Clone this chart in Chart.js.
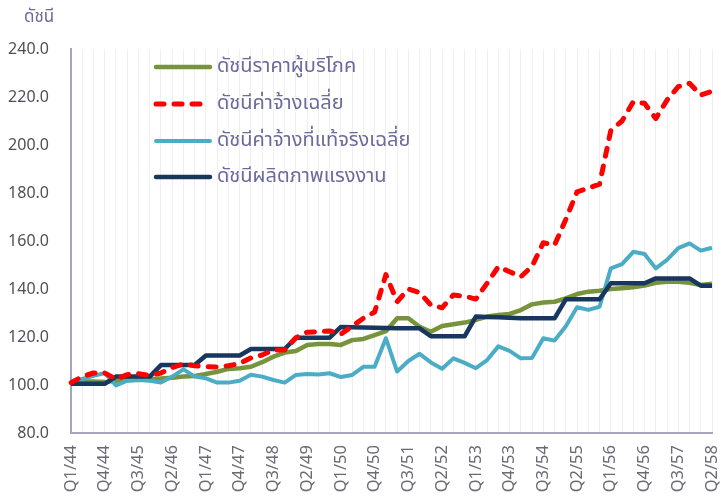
<!DOCTYPE html>
<html><head><meta charset="utf-8">
<script src="https://cdn.jsdelivr.net/npm/chart.js@4.4.1/dist/chart.umd.min.js"></script>
<style>html,body{margin:0;padding:0;background:#fff}#wrap{position:relative;width:721px;height:498px}</style>
</head><body><div id="wrap"><canvas id="c" width="721" height="498"></canvas></div>
<script>
const quarters = [
 'Q1/44','Q2/44','Q3/44','Q4/44','Q1/45','Q2/45','Q3/45','Q4/45',
 'Q1/46','Q2/46','Q3/46','Q4/46','Q1/47','Q2/47','Q3/47','Q4/47',
 'Q1/48','Q2/48','Q3/48','Q4/48','Q1/49','Q2/49','Q3/49','Q4/49',
 'Q1/50','Q2/50','Q3/50','Q4/50','Q1/51','Q2/51','Q3/51','Q4/51',
 'Q1/52','Q2/52','Q3/52','Q4/52','Q1/53','Q2/53','Q3/53','Q4/53',
 'Q1/54','Q2/54','Q3/54','Q4/54','Q1/55','Q2/55','Q3/55','Q4/55',
 'Q1/56','Q2/56','Q3/56','Q4/56','Q1/57','Q2/57','Q3/57','Q4/57',
 'Q1/58','Q2/58'];
const shownTicks = ['Q1/44','Q4/44','Q3/45','Q2/46','Q1/47','Q4/47','Q3/48','Q2/49','Q1/50','Q4/50',
 'Q3/51','Q2/52','Q1/53','Q4/53','Q3/54','Q2/55','Q1/56','Q4/56','Q3/57','Q2/58'];
const yTicks = [80,100,120,140,160,180,200,220,240];

const cpi = [101,101.5,101.5,101.2,101.8,102,102.2,102.4,102.7,103,103.5,103.8,104.6,105.5,106.7,107,
 107.6,109.5,111.8,113.5,114.2,116.7,117.1,117.1,116.7,118.7,119.2,120.8,122.4,127.8,127.8,124.3,
 122.2,124.6,125.3,126,127.1,128.5,129.2,129.6,131.2,133.6,134.4,134.7,136.1,137.9,138.9,139.3,
 140,140.3,140.7,141.4,142.6,143,143,142.6,141.7,142.2];
const wage = [101,103.5,105,105,102.5,104.3,104.7,104,105,107.3,108.8,108,107.6,107.5,108,109,
 111.3,112.5,114.6,114.6,119.7,122,122.2,122.5,121.2,124.5,127.8,130.4,146,134.7,140,138.5,
 133.3,132.2,137.5,137,135.8,142.4,149.3,147.2,145.1,149.5,159.3,158.3,169,180.5,182,183.7,
 206,210,218,217.4,211,218.7,224.3,225.7,220.8,222.4];
const realWage = [101,102.5,103.8,105,99.8,101.8,102.1,101.8,101,103.5,106.5,103.5,102.8,101,101,101.8,
 104.3,103.5,102.1,101,104.2,104.6,104.4,104.9,103.3,104.2,107.6,107.6,119.5,105.6,110,113,
 109.4,106.8,111.1,109.2,107,110.4,116.1,114.2,111.1,111.3,119.5,118.5,124.5,132.4,131.3,132.6,
 148.6,150.4,155.5,154.6,148.6,152.1,157,159,156,157.2];
const productivity = [100.5,100.5,100.5,100.5,103.5,103.5,103.5,103.5,108.3,108.3,108.3,108.3,
 112.3,112.3,112.3,112.3,115,115,115,115,119.7,119.7,119.7,119.7,124.2,124.1,124,123.9,
 123.7,123.6,123.6,123.6,120.3,120.3,120.3,120.3,128.5,128.3,128.2,128,127.8,127.8,127.8,127.8,
 135.7,135.7,135.7,135.7,142.4,142.4,142.4,142.4,144.4,144.4,144.4,144.4,141.4,141.4];
const seriesNames = ['ดัชนีราคาผู้บริโภค','ดัชนีค่าจ้างเฉลี่ย','ดัชนีค่าจ้างที่แท้จริงเฉลี่ย','ดัชนีผลิตภาพแรงงาน'];
const yTitle = 'ดัชนี';

const TXT = '#6c6a9a';
const THAI = '"Noto Sans Thai","Noto Sans","Loma","Tahoma",sans-serif';

const legendPlugin = {
  id: 'inLegend',
  afterDraw(chart) {
    const ctx = chart.ctx;
    ctx.save();
    ctx.fillStyle = TXT;
    ctx.font = '17px ' + THAI;
    ctx.textAlign = 'left';
    ctx.textBaseline = 'middle';
    ctx.fillText(yTitle, 24, 19);
    const rows = [67, 104, 141, 177];
    chart.data.datasets.forEach((ds, i) => {
      const y = rows[i];
      ctx.beginPath();
      ctx.strokeStyle = ds.borderColor;
      ctx.lineWidth = ds.borderWidth;
      ctx.lineCap = 'round';
      ctx.setLineDash(ds.borderDash || []);
      ctx.moveTo(156, y); ctx.lineTo(210, y);
      ctx.stroke();
      ctx.setLineDash([]);
      ctx.fillStyle = TXT;
      ctx.font = '20px ' + THAI;
      ctx.fillText(ds.label, 217, y + 1);
    });
    ctx.restore();
  }
};

new Chart(document.getElementById('c'), {
  type: 'line',
  data: {
    labels: quarters,
    datasets: [
      {label: seriesNames[0], data: cpi, borderColor: '#77933c', borderWidth: 4.5, order: 4},
      {label: seriesNames[1], data: wage, borderColor: '#ff0000', borderWidth: 5, borderDash: [8, 10], borderCapStyle: 'round', order: 1},
      {label: seriesNames[2], data: realWage, borderColor: '#4bacc6', borderWidth: 4, order: 3},
      {label: seriesNames[3], data: productivity, borderColor: '#17375e', borderWidth: 4.5, order: 2}
    ]
  },
  options: {
    responsive: false,
    animation: false,
    devicePixelRatio: 1,
    layout: {padding: {top: 49, right: 9, left: 0, bottom: 0}},
    elements: {point: {radius: 0}, line: {tension: 0, borderJoinStyle: 'round', fill: false}},
    plugins: {legend: {display: false}, tooltip: {enabled: false}},
    scales: {
      x: {
        type: 'category',
        offset: false,
        grid: {color: '#efeff3', lineWidth: 1, drawTicks: false},
        border: {color: '#a7a4bd', width: 2},
        ticks: {
          autoSkip: false, maxRotation: 90, minRotation: 90, padding: 12,
          color: '#6a6a72', font: {family: '"Noto Sans"', size: 16.5},
          callback: (v, i) => shownTicks.includes(quarters[i]) ? quarters[i] : ''
        },
        afterFit: s => { s.height = 65; s.paddingRight = 0; s.paddingLeft = 0; }
      },
      y: {
        min: yTicks[0], max: yTicks[yTicks.length - 1],
        afterBuildTicks: s => { s.ticks = yTicks.map(v => ({value: v})); },
        grid: {display: false, drawTicks: false},
        border: {color: '#a7a4bd', width: 2},
        ticks: {padding: 22, color: '#4f4f5c', font: {family: '"Noto Sans"', size: 16},
          callback: v => Number(v).toFixed(1)},
        afterFit: s => { s.width = 71; s.paddingTop = 0; s.paddingBottom = 0; }
      }
    }
  },
  plugins: [legendPlugin]
});
</script></body></html>
